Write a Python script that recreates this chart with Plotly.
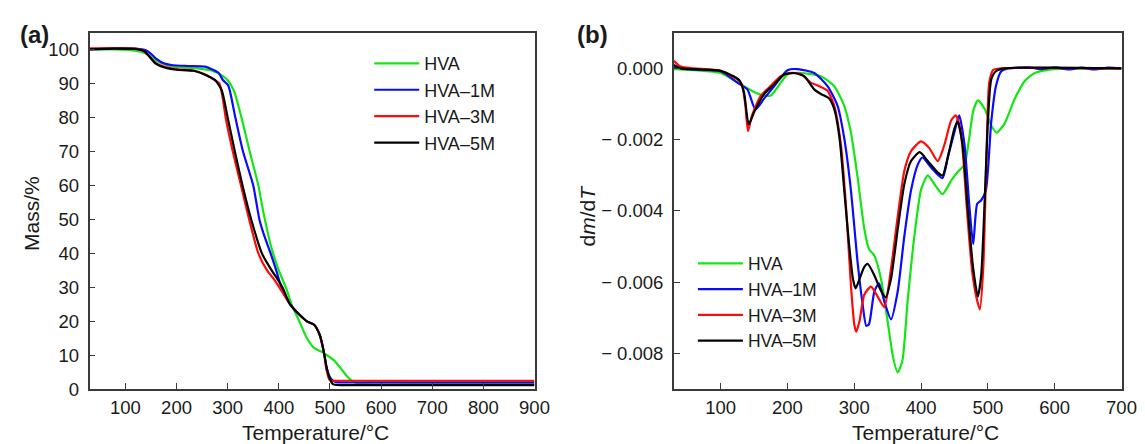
import plotly.graph_objects as go
import numpy as np

# ---------------- Panel (a): TGA mass % ----------------
names = ["HVA", "HVA\u20131M", "HVA\u20133M", "HVA\u20135M"]
colors = ["#14e614", "#0a0aff", "#ff0a0a", "#000000"]

tga_hva_T = [30, 80, 110, 130, 145, 160, 180, 200, 240, 270, 290, 300, 312, 327, 343, 360, 370, 385, 400, 415,
             425, 440, 455, 470, 484, 494, 508, 522, 535, 546, 560, 700, 900]
tga_hva_m = [100.1, 100.1, 99.9, 99.4, 98.4, 96.8, 95.5, 94.9, 94.5, 93.8, 92.3, 91.0, 88.0, 80.0, 70.0, 60.0, 52.0, 42.0, 35.0, 29.5,
             25.0, 20.0, 15.0, 12.0, 11.0, 10.0, 8.5, 6.0, 3.5, 2.2, 1.6, 1.5, 1.5]

tga_1m_T = [30, 80, 120, 140, 150, 160, 175, 190, 220, 256, 270, 282, 291, 301, 315, 330, 350, 362, 372, 384, 395, 405,
            422, 440, 455, 469, 480, 488, 494, 500, 506, 512, 520, 600, 900]
tga_1m_m = [100.2, 100.4, 100.3, 99.8, 98.8, 97.4, 96.0, 95.5, 95.2, 95.0, 94.2, 93.2, 91.0, 89.5, 80.0, 70.0, 60.0, 50.0, 45.0, 40.0, 35.0, 30.0,
            25.0, 22.0, 20.0, 19.0, 16.0, 11.0, 6.0, 3.5, 2.5, 2.1, 2.0, 2.0, 2.0]

tga_3m_T = [30, 80, 120, 135, 145, 160, 180, 200, 234, 255, 270, 280, 284, 290, 296, 310, 326, 342, 360, 377, 390, 401,
            422, 440, 455, 469, 480, 488, 493, 497, 500, 520, 900]
tga_3m_m = [100.4, 100.5, 100.3, 99.6, 98.3, 96.0, 94.8, 94.3, 93.8, 92.8, 91.5, 90.5, 90.0, 86.0, 80.0, 70.0, 60.0, 50.0, 40.0, 35.0, 32.5, 30.0,
            25.0, 22.0, 20.0, 19.0, 16.0, 11.0, 6.0, 3.5, 2.6, 2.5, 2.5]

tga_5m_T = [30, 80, 120, 138, 148, 160, 180, 200, 234, 262, 275, 288, 300, 314, 329, 346, 367, 386, 395, 407,
            422, 440, 455, 469, 480, 488, 494, 500, 505, 510, 520, 600, 900]
tga_5m_m = [100.1, 100.3, 100.2, 99.5, 97.8, 95.8, 94.6, 94.1, 93.8, 92.2, 91.1, 88.2, 80.0, 70.0, 60.0, 50.0, 40.0, 35.0, 33.0, 30.0,
            25.0, 22.0, 20.0, 19.0, 16.0, 11.0, 6.0, 3.0, 1.6, 1.3, 1.2, 1.2, 1.2]

# ---------------- Panel (b): DTG dm/dT (units of 1e-3) ----------------
dtg_hva_T = [30, 60, 100, 130, 150, 165, 175, 190, 200, 220, 250, 270, 285, 295, 305, 315, 322, 330, 340, 350, 358, 365, 372,
             380, 390, 400, 410, 420, 432, 445, 455, 465, 472, 478, 485, 495, 505, 513, 525, 540, 555, 570, 590, 620, 700]
dtg_hva_v = [-0.02, -0.05, -0.13, -0.45, -0.66, -0.76, -0.76, -0.40, -0.17, -0.13, -0.22, -0.50, -1.05, -1.80, -3.06, -4.50, -5.07, -5.25,
             -5.90, -7.10, -8.10, -8.53, -8.20, -6.50, -4.70, -3.40, -3.00, -3.25, -3.53, -3.15, -2.90, -2.70, -1.96, -1.20, -0.90, -1.13, -1.60,
             -1.80, -1.55, -0.86, -0.36, -0.13, -0.04, -0.01, 0.0]

dtg_1m_T = [30, 50, 100, 125, 140, 152, 165, 180, 200, 215, 240, 260, 275, 285, 295, 305, 312, 318, 322, 330, 337, 345, 355, 365,
            375, 385, 395, 402, 415, 432, 440, 450, 457, 465, 472, 478, 484, 490, 497, 505, 512, 520, 530, 560, 580, 600, 620, 640, 660, 680, 700]
dtg_1m_v = [0.05, -0.02, -0.08, -0.40, -0.59, -1.15, -0.85, -0.50, -0.05, -0.02, -0.13, -0.50, -1.05, -1.96, -3.42, -5.44, -6.54, -7.22,
            -7.18, -6.26, -6.03, -6.54, -7.04, -6.26, -4.70, -3.42, -2.70, -2.50, -2.78, -3.08, -2.50, -1.78, -1.32, -2.14, -3.80, -4.93, -3.80,
            -3.70, -3.42, -1.50, -0.50, -0.08, 0.0, 0.03, -0.02, 0.03, -0.03, 0.02, -0.03, 0.02, 0.0]

dtg_3m_T = [30, 40, 60, 100, 125, 132, 137, 141, 147, 160, 175, 190, 205, 220, 235, 250, 260, 270, 280, 288, 295, 300, 303, 308,
            315, 325, 335, 345, 355, 365, 375, 385, 400, 412, 425, 435, 445, 452, 460, 468, 476, 482, 488, 493, 498, 502, 508, 520, 700]
dtg_3m_v = [0.21, 0.05, 0.0, -0.07, -0.31, -0.45, -1.04, -1.76, -1.32, -0.77, -0.49, -0.22, -0.13, -0.16, -0.40, -0.52, -0.63, -1.04,
            -2.14, -3.97, -6.08, -7.18, -7.39, -7.08, -6.35, -6.12, -6.40, -6.70, -5.62, -4.16, -2.87, -2.32, -2.05, -2.23, -2.60, -2.14,
            -1.46, -1.32, -1.87, -3.80, -5.62, -6.35, -6.76, -5.62, -2.42, -0.40, -0.04, 0.0, 0.0]

dtg_5m_T = [30, 40, 100, 128, 135, 142, 150, 165, 180, 195, 210, 225, 240, 250, 262, 270, 278, 285, 292, 298, 302, 308, 315, 320,
            330, 340, 347, 355, 365, 375, 385, 398, 410, 425, 432, 442, 450, 455, 462, 470, 478, 485, 490, 495, 500, 505, 512, 525, 700]
dtg_5m_v = [0.10, 0.0, -0.07, -0.33, -0.68, -1.57, -1.23, -0.72, -0.45, -0.17, -0.13, -0.22, -0.59, -0.72, -0.84, -1.14, -1.96, -3.42,
            -4.89, -5.90, -6.17, -5.90, -5.57, -5.48, -5.80, -6.24, -6.42, -5.90, -4.52, -3.24, -2.60, -2.35, -2.60, -2.92, -3.01, -2.32,
            -1.68, -1.50, -2.14, -3.97, -5.62, -6.40, -5.80, -3.80, -1.50, -0.31, -0.08, 0.0, 0.0]

dtg_scale = 1e-3

tga = [(tga_hva_T, tga_hva_m), (tga_1m_T, tga_1m_m), (tga_3m_T, tga_3m_m), (tga_5m_T, tga_5m_m)]
dtg = [(dtg_hva_T, dtg_hva_v), (dtg_1m_T, dtg_1m_v), (dtg_3m_T, dtg_3m_v), (dtg_5m_T, dtg_5m_v)]

x_ticks_a = [100, 200, 300, 400, 500, 600, 700, 800, 900]
y_ticks_a = [0, 10, 20, 30, 40, 50, 60, 70, 80, 90, 100]
x_ticks_b = [100, 200, 300, 400, 500, 600, 700]
y_ticks_b = [0.0, -0.002, -0.004, -0.006, -0.008]
y_ticktext_b = ["0.000", "\u2212 0.002", "\u2212 0.004", "\u2212 0.006", "\u2212 0.008"]

FONT = "Liberation Sans, Arial, Helvetica, sans-serif"
TXT = "#1a1a1a"
W, H = 1145, 444

fig = go.Figure()
for (t, m), n, c in zip(tga, names, colors):
    fig.add_trace(go.Scatter(x=t, y=m, name=n, mode="lines", xaxis="x", yaxis="y",
                             line=dict(color=c, width=2.2, shape="spline", smoothing=0.6),
                             legend="legend"))
for (t, v), n, c in zip(dtg, names, colors):
    fig.add_trace(go.Scatter(x=t, y=np.array(v) * dtg_scale, name=n, mode="lines", xaxis="x2", yaxis="y2",
                             line=dict(color=c, width=2.2, shape="spline", smoothing=0.6),
                             legend="legend2"))

def px(x):
    return x / W

def py(y):
    return 1 - y / H

axis_common = dict(showline=True, linecolor="#3a3a3a", linewidth=1.5, mirror=True,
                   ticks="inside", ticklen=6, tickwidth=1.3, tickcolor="#3a3a3a",
                   showgrid=False, zeroline=False,
                   tickfont=dict(family=FONT, size=18.5, color=TXT))

fig.update_layout(
    width=W, height=H,
    margin=dict(l=0, r=0, t=0, b=0),
    paper_bgcolor="white", plot_bgcolor="white",
    font=dict(family=FONT, color=TXT),
    xaxis=dict(domain=[px(82.7), px(533.5)], range=[30, 900], tickvals=x_ticks_a, anchor="y",
               ticklabelstandoff=1, **axis_common),
    yaxis=dict(domain=[py(390), py(25.3)], range=[0, 105], tickvals=y_ticks_a, anchor="x",
               ticklabelstandoff=5, **axis_common),
    xaxis2=dict(domain=[px(674.7), px(1128.3)], range=[30, 700], tickvals=x_ticks_b, anchor="y2",
                ticklabelstandoff=1, **axis_common),
    yaxis2=dict(domain=[py(390), py(25.3)], range=[-0.009, 0.001], tickvals=y_ticks_b, ticktext=y_ticktext_b,
                anchor="x2", ticklabelstandoff=5, **axis_common),
    legend=dict(x=px(366), y=py(38), xanchor="left", yanchor="top", bgcolor="rgba(0,0,0,0)",
                font=dict(family=FONT, size=18, color=TXT), itemwidth=45, tracegroupgap=0),
    legend2=dict(x=px(694), y=py(243), xanchor="left", yanchor="top", bgcolor="rgba(0,0,0,0)",
                 font=dict(family=FONT, size=17.5, color=TXT), itemwidth=45, tracegroupgap=0),
    showlegend=True,
)

ann_font = dict(family=FONT, size=21, color=TXT)
common_ann = dict(xref="paper", yref="paper", showarrow=False, xanchor="center", yanchor="middle")
fig.add_annotation(text="Temperature/\u00b0C", x=px(312), y=py(434), font=ann_font, **common_ann)
fig.add_annotation(text="Temperature/\u00b0C", x=px(930), y=py(434), font=ann_font, **common_ann)
fig.add_annotation(text="Mass/%", x=px(24), y=py(210), textangle=-90, font=ann_font, **common_ann)
fig.add_annotation(text="d<i>m</i>/d<i>T</i>", x=px(587), y=py(212), textangle=-90, font=ann_font, **common_ann)
fig.add_annotation(text="<b>(a)</b>", x=px(27), y=py(27), font=dict(family=FONT, size=24, color=TXT), **common_ann)
fig.add_annotation(text="<b>(b)</b>", x=px(592), y=py(27), font=dict(family=FONT, size=24, color=TXT), **common_ann)

fig.write_html("out.html")
